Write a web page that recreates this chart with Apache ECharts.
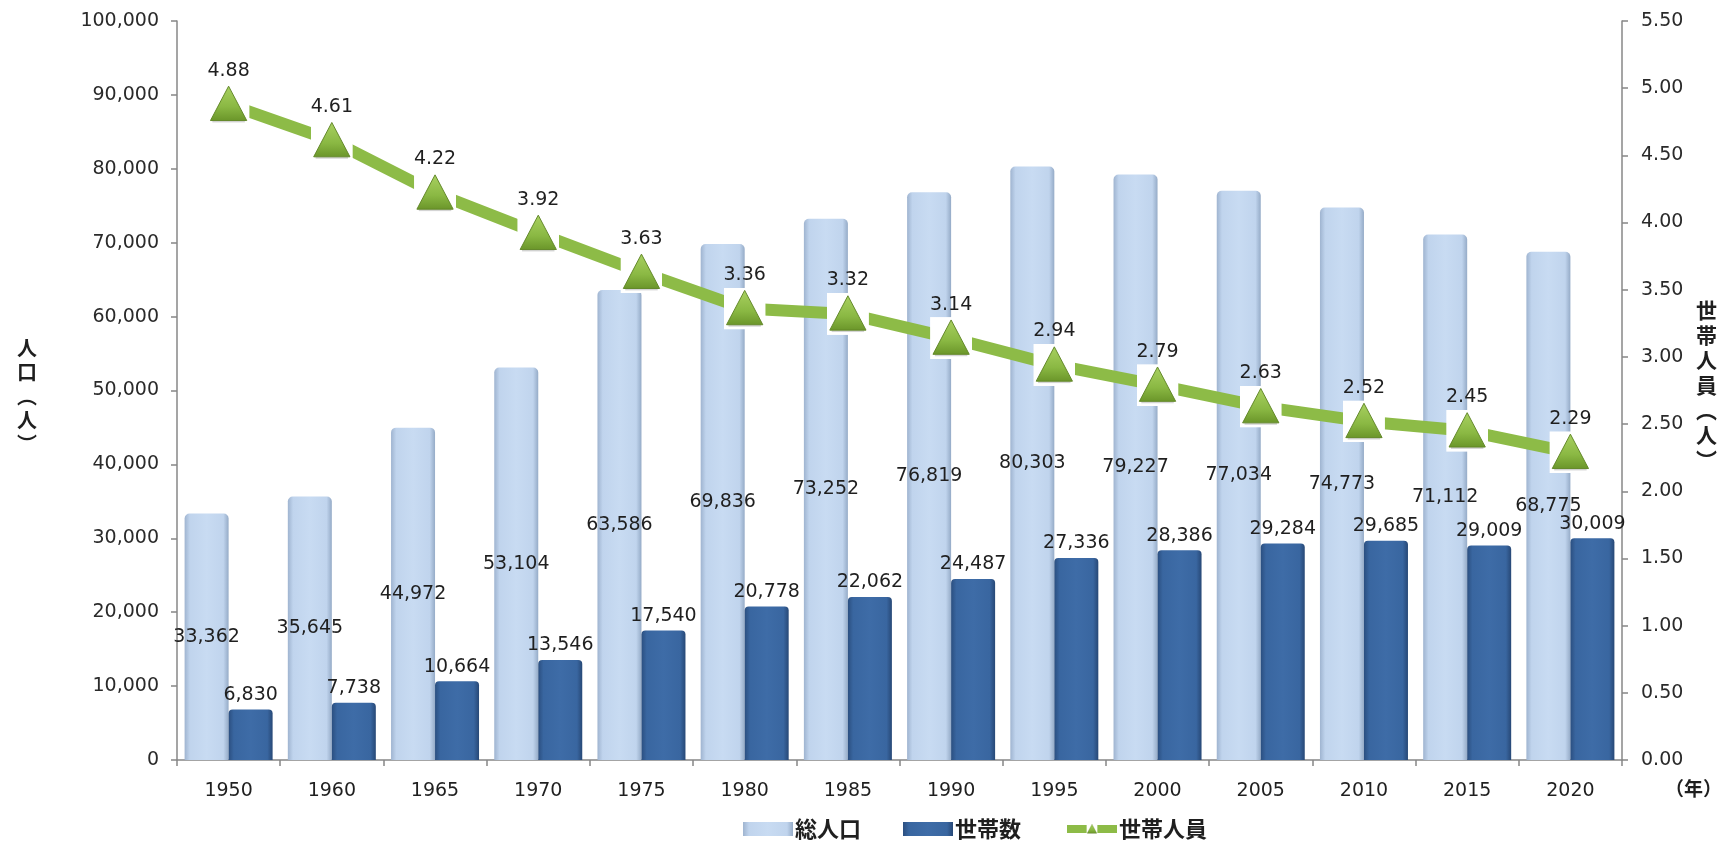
<!DOCTYPE html>
<html lang="ja">
<head>
<meta charset="utf-8">
<title>人口・世帯数・世帯人員の推移</title>
<script src="https://cdn.jsdelivr.net/npm/echarts@6/dist/echarts.min.js"></script>
<style>
  html, body { margin: 0; padding: 0; background: #ffffff; }
  #chart { width: 1727px; height: 843px; }
</style>
</head>
<body>
<div id="chart"></div>
<script>
// Census years
const years = ['1950', '1960', '1965', '1970', '1975', '1980', '1985', '1990', '1995', '2000', '2005', '2010', '2015', '2020'];
// 総人口 (people)
const totalPopulation = [33362, 35645, 44972, 53104, 63586, 69836, 73252, 76819, 80303, 79227, 77034, 74773, 71112, 68775];
// 世帯数 (households)
const households = [6830, 7738, 10664, 13546, 17540, 20778, 22062, 24487, 27336, 28386, 29284, 29685, 29009, 30009];
// 世帯人員 (people per household)
const membersPerHousehold = [4.88, 4.61, 4.22, 3.92, 3.63, 3.36, 3.32, 3.14, 2.94, 2.79, 2.63, 2.52, 2.45, 2.29];

const seriesNames = ['総人口', '世帯数', '世帯人員'];

const NUM_FONT = '"DejaVu Sans", "Noto Sans", sans-serif';
const JP_FONT = '"Noto Sans CJK JP", "Noto Sans", sans-serif';
const TEXT_COLOR = '#1f1f1f';
const AXIS_COLOR = '#878787';
const LINE_GREEN = '#8dbb47';

// Triangle marker sitting on a white square
const markerSvg =
  "<svg xmlns='http://www.w3.org/2000/svg' width='44' height='44' viewBox='0 0 44 44'>" +
  "<defs><linearGradient id='g' x1='0' y1='0' x2='0' y2='1'>" +
  "<stop offset='0' stop-color='#a8d060'/><stop offset='0.6' stop-color='#8ab843'/>" +
  "<stop offset='1' stop-color='#6b962a'/></linearGradient></defs>" +
  "<rect width='44' height='44' fill='#ffffff'/>" +
  "<rect x='5' y='39' width='34' height='2' fill='#d4d4d4'/>" +
  "<polygon points='22,3 3,39 41,39' fill='url(#g)' stroke='#5f8526' stroke-width='1'/>" +
  "</svg>";
const markerSymbol = 'image://data:image/svg+xml;charset=utf-8,' + encodeURIComponent(markerSvg);

const fmtThousands = v => Number(v).toLocaleString('en-US');

const chart = echarts.init(document.getElementById('chart'), null, { renderer: 'canvas' });

chart.setOption({
  backgroundColor: '#ffffff',
  animation: false,
  textStyle: { fontFamily: NUM_FONT },
  grid: { left: 177, right: 105, top: 21, bottom: 83, containLabel: false },
  legend: {
    data: [
      { name: seriesNames[0], icon: 'rect' },
      { name: seriesNames[1], icon: 'rect' },
      { name: seriesNames[2] }
    ],
    left: 738,
    top: 813,
    itemWidth: 50,
    itemHeight: 14,
    itemGap: 42,
    lineStyle: { width: 8, color: LINE_GREEN },
    textStyle: { fontFamily: JP_FONT, fontSize: 22, fontWeight: 'bold', color: TEXT_COLOR, padding: [0, 0, 0, -3] }
  },
  xAxis: {
    type: 'category',
    data: years,
    axisLine: { lineStyle: { color: AXIS_COLOR, width: 1.5 } },
    axisTick: { show: true, alignWithLabel: false, length: 6, lineStyle: { color: AXIS_COLOR, width: 1.5 } },
    axisLabel: { fontFamily: NUM_FONT, fontSize: 19, color: TEXT_COLOR, margin: 22 },
    splitLine: { show: false }
  },
  yAxis: [
    {
      type: 'value',
      min: 0,
      max: 100000,
      interval: 10000,
      axisLine: { show: true, lineStyle: { color: AXIS_COLOR, width: 1.5 } },
      axisTick: { show: true, length: 6, lineStyle: { color: AXIS_COLOR, width: 1.5 } },
      axisLabel: { fontFamily: NUM_FONT, fontSize: 19, color: '#2a2a2a', margin: 18, formatter: fmtThousands },
      splitLine: { show: false }
    },
    {
      type: 'value',
      min: 0,
      max: 5.5,
      interval: 0.5,
      position: 'right',
      axisLine: { show: true, lineStyle: { color: AXIS_COLOR, width: 1.5 } },
      axisTick: { show: true, length: 6, lineStyle: { color: AXIS_COLOR, width: 1.5 } },
      axisLabel: { fontFamily: NUM_FONT, fontSize: 19, color: '#2a2a2a', margin: 19, formatter: v => v.toFixed(2) },
      splitLine: { show: false }
    }
  ],
  series: [
    {
      name: seriesNames[0],
      type: 'bar',
      yAxisIndex: 0,
      data: totalPopulation,
      barWidth: 44,
      barGap: '0%',
      z: 2,
      itemStyle: {
        borderRadius: [5, 5, 0, 0],
        color: new echarts.graphic.LinearGradient(0, 0, 1, 0, [
          { offset: 0, color: '#9fb4d0' },
          { offset: 0.12, color: '#c0d4ed' },
          { offset: 0.5, color: '#c8dbf2' },
          { offset: 0.88, color: '#c0d4ed' },
          { offset: 1, color: '#95abc7' }
        ])
      },
      label: {
        show: true,
        position: 'inside',
        fontFamily: NUM_FONT,
        fontSize: 19,
        color: TEXT_COLOR,
        textBorderWidth: 0,
        formatter: p => fmtThousands(p.value)
      }
    },
    {
      name: seriesNames[1],
      type: 'bar',
      yAxisIndex: 0,
      data: households,
      barWidth: 44,
      barGap: '0%',
      z: 2,
      itemStyle: {
        borderRadius: [4, 4, 0, 0],
        color: new echarts.graphic.LinearGradient(0, 0, 1, 0, [
          { offset: 0, color: '#2b4f80' },
          { offset: 0.12, color: '#3966a0' },
          { offset: 0.5, color: '#3e6ca7' },
          { offset: 0.88, color: '#3966a0' },
          { offset: 1, color: '#274876' }
        ])
      },
      label: {
        show: true,
        position: 'top',
        distance: 5,
        fontFamily: NUM_FONT,
        fontSize: 19,
        color: TEXT_COLOR,
        formatter: p => fmtThousands(p.value)
      }
    },
    {
      name: seriesNames[2],
      type: 'line',
      yAxisIndex: 1,
      data: membersPerHousehold,
      z: 5,
      symbol: markerSymbol,
      symbolSize: 42,
      lineStyle: { color: LINE_GREEN, width: 12 },
      itemStyle: { color: LINE_GREEN },
      label: {
        show: true,
        position: 'top',
        distance: 3,
        fontFamily: NUM_FONT,
        fontSize: 19,
        color: TEXT_COLOR,
        formatter: p => p.value.toFixed(2)
      }
    }
  ],
  graphic: [
    {
      type: 'text',
      left: 17,
      top: 336,
      style: {
        text: '人\n口\n︵\n人\n︶',
        fontFamily: JP_FONT,
        fontSize: 20,
        fontWeight: 'bold',
        lineHeight: 24,
        fill: TEXT_COLOR,
        align: 'center'
      }
    },
    {
      type: 'text',
      left: 1696,
      top: 298,
      style: {
        text: '世\n帯\n人\n員\n︵\n人\n︶',
        fontFamily: JP_FONT,
        fontSize: 21,
        fontWeight: 'bold',
        lineHeight: 25,
        fill: TEXT_COLOR,
        align: 'center'
      }
    },
    {
      type: 'text',
      left: 1665,
      top: 779,
      style: {
        text: '（年）',
        fontFamily: JP_FONT,
        fontSize: 19,
        fontWeight: 'bold',
        fill: TEXT_COLOR
      }
    }
  ]
});
</script>
</body>
</html>
